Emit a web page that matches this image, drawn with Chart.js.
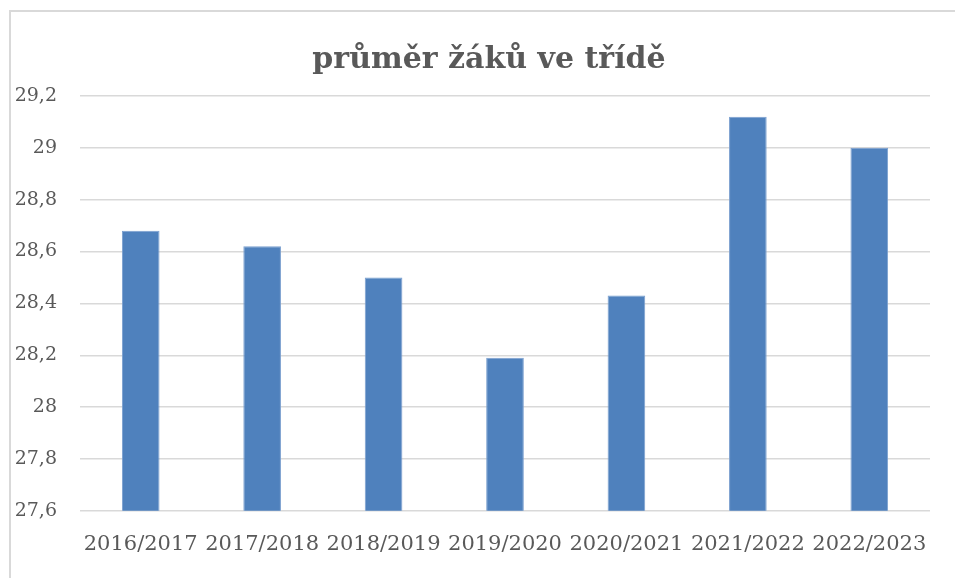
<!DOCTYPE html>
<html>
<head>
<meta charset="utf-8">
<script src="https://cdn.jsdelivr.net/npm/chart.js@4"></script>
<style>
  html, body { margin: 0; padding: 0; background: #fff; overflow: hidden; }
  #frame {
    position: absolute; left: 9px; top: 10px; width: 970px; height: 600px;
    border-left: 2px solid #d9d9d9; border-top: 2px solid #d9d9d9;
  }
  #wrap { position: absolute; left: 11px; top: 12px; width: 956px; height: 566px; }
</style>
</head>
<body>
<div id="frame"></div>
<div id="wrap"><canvas id="chart"></canvas></div>
<script>
const titleText = "průměr žáků ve třídě";
const years = ["2016/2017", "2017/2018", "2018/2019", "2019/2020", "2020/2021", "2021/2022", "2022/2023"];
const avgPupils = [28.68, 28.62, 28.5, 28.19, 28.43, 29.12, 29.0];

const ctx = document.getElementById("chart").getContext("2d");

//formatting with decimal comma
const czNumber = (v) => String(Number(v.toFixed(1))).replace(".", ",");

new Chart(ctx, {
  type: "bar",
  data: {
    labels: years,
    datasets: [
      {
        data: avgPupils,
        backgroundColor: "#4f81bd",
        borderColor: "#7a9fcf",
        borderWidth: 1,
        barPercentage: 0.31,
        categoryPercentage: 1,
      },
    ],
  },
  options: {
    responsive: true,
    maintainAspectRatio: false,
    animation: false,
    layout: { padding: { top: 0, right: 0, bottom: 8, left: 0 } },
    plugins: {
      legend: { display: false },
      tooltip: { enabled: false },
      title: {
        display: true,
        text: titleText,
        color: "#595959",
        font: { family: "DejaVu Serif", size: 30, weight: "bold" },
        padding: { top: 30, bottom: 18 },
      },
    },
    scales: {
      x: {
        grid: { display: false },
        border: { display: false },
        ticks: {
          color: "#595959",
          font: { family: "DejaVu Serif", size: 21 },
          maxRotation: 0,
          autoSkip: false,
          padding: 13,
        },
      },
      y: {
        min: 27.6,
        max: 29.2,
        afterFit: (scale) => { scale.width = 69; },
        grid: { color: "#d9d9d9", lineWidth: 1.5, drawTicks: false },
        border: { display: false },
        ticks: {
          stepSize: 0.2,
          color: "#595959",
          font: { family: "DejaVu Serif", size: 19 },
          padding: 23,
          callback: (v) => czNumber(v),
        },
      },
      // empty right axis, only keeps the gap on the right side
      yRight: {
        position: "right",
        min: 27.6,
        max: 29.2,
        afterFit: (scale) => { scale.width = 37; },
        grid: { display: false },
        border: { display: false },
        ticks: { display: false },
      },
    },
  },
});
</script>
</body>
</html>
